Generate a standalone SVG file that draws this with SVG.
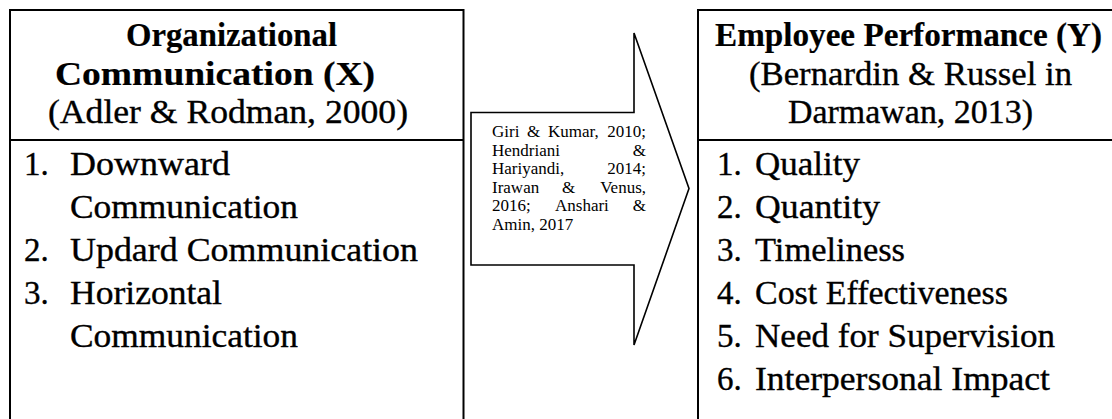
<svg xmlns="http://www.w3.org/2000/svg" width="1112" height="419" viewBox="0 0 1112 419">
  <style>
    .box { fill: #ffffff; stroke: #000000; stroke-width: 2; }
    .line { stroke: #000000; stroke-width: 2; fill: none; }
    .arrow { fill: #ffffff; stroke: #000000; stroke-width: 1.6; stroke-linejoin: miter; }
    .t { font-family: "Liberation Serif", "Times New Roman", serif; font-size: 33px; fill: #000000; stroke: #000000; stroke-width: 0.35; }
    .b { font-weight: bold; stroke-width: 0.2; }
    .s { font-family: "Liberation Serif", "Times New Roman", serif; font-size: 17px; fill: #000000; }
  </style>
  <rect x="0" y="0" width="1112" height="419" fill="#ffffff"/>

  <g id="node-organizational-communication">
    <rect class="box" x="10" y="10" width="453.5" height="430"/>
    <line class="line" x1="10" y1="140" x2="463.5" y2="140"/>
    <text class="t b" x="126" y="46" textLength="211" lengthAdjust="spacingAndGlyphs">Organizational</text>
    <text class="t b" x="55" y="85" textLength="320" lengthAdjust="spacingAndGlyphs">Communication (X)</text>
    <text class="t" x="48" y="123" textLength="360" lengthAdjust="spacingAndGlyphs">(Adler &amp; Rodman, 2000)</text>
    <text class="t" x="24" y="175">1.</text>
    <text class="t" x="70" y="175" textLength="160" lengthAdjust="spacingAndGlyphs">Downward</text>
    <text class="t" x="70" y="218" textLength="228" lengthAdjust="spacingAndGlyphs">Communication</text>
    <text class="t" x="24" y="261">2.</text>
    <text class="t" x="70" y="261" textLength="348" lengthAdjust="spacingAndGlyphs">Updard Communication</text>
    <text class="t" x="24" y="304">3.</text>
    <text class="t" x="70" y="304" textLength="152" lengthAdjust="spacingAndGlyphs">Horizontal</text>
    <text class="t" x="70" y="347" textLength="228" lengthAdjust="spacingAndGlyphs">Communication</text>
  </g>

  <g id="connectors">
    <polygon class="arrow" points="471,112.5 634,112.5 634,33 689,188.5 634,345 634,265 471,265"/>
    <g id="arrow-label">
      <text class="s" x="492" y="137">Giri</text>
      <text class="s" x="527" y="137">&amp;</text>
      <text class="s" x="548" y="137">Kumar,</text>
      <text class="s" x="646" y="137" text-anchor="end">2010;</text>
      <text class="s" x="492" y="155.5">Hendriani</text>
      <text class="s" x="646" y="155.5" text-anchor="end">&amp;</text>
      <text class="s" x="492" y="174">Hariyandi,</text>
      <text class="s" x="646" y="174" text-anchor="end">2014;</text>
      <text class="s" x="492" y="192.5">Irawan</text>
      <text class="s" x="562" y="192.5">&amp;</text>
      <text class="s" x="646" y="192.5" text-anchor="end">Venus,</text>
      <text class="s" x="492" y="211">2016;</text>
      <text class="s" x="555" y="211">Anshari</text>
      <text class="s" x="646" y="211" text-anchor="end">&amp;</text>
      <text class="s" x="492" y="229.5">Amin, 2017</text>
    </g>
  </g>

  <g id="node-employee-performance">
    <rect class="box" x="698" y="10" width="440" height="430"/>
    <line class="line" x1="698" y1="140" x2="1112" y2="140"/>
    <text class="t b" x="715" y="46" textLength="387" lengthAdjust="spacingAndGlyphs">Employee Performance (Y)</text>
    <text class="t" x="749" y="85" textLength="323" lengthAdjust="spacingAndGlyphs">(Bernardin &amp; Russel in</text>
    <text class="t" x="788" y="123" textLength="245" lengthAdjust="spacingAndGlyphs">Darmawan, 2013)</text>
    <text class="t" x="717" y="175">1.</text>
    <text class="t" x="755" y="175" textLength="105" lengthAdjust="spacingAndGlyphs">Quality</text>
    <text class="t" x="717" y="218">2.</text>
    <text class="t" x="755" y="218" textLength="125" lengthAdjust="spacingAndGlyphs">Quantity</text>
    <text class="t" x="717" y="261">3.</text>
    <text class="t" x="755" y="261" textLength="150" lengthAdjust="spacingAndGlyphs">Timeliness</text>
    <text class="t" x="717" y="304">4.</text>
    <text class="t" x="755" y="304" textLength="253" lengthAdjust="spacingAndGlyphs">Cost Effectiveness</text>
    <text class="t" x="717" y="347">5.</text>
    <text class="t" x="755" y="347" textLength="300" lengthAdjust="spacingAndGlyphs">Need for Supervision</text>
    <text class="t" x="717" y="390">6.</text>
    <text class="t" x="755" y="390" textLength="295" lengthAdjust="spacingAndGlyphs">Interpersonal Impact</text>
  </g>
</svg>
